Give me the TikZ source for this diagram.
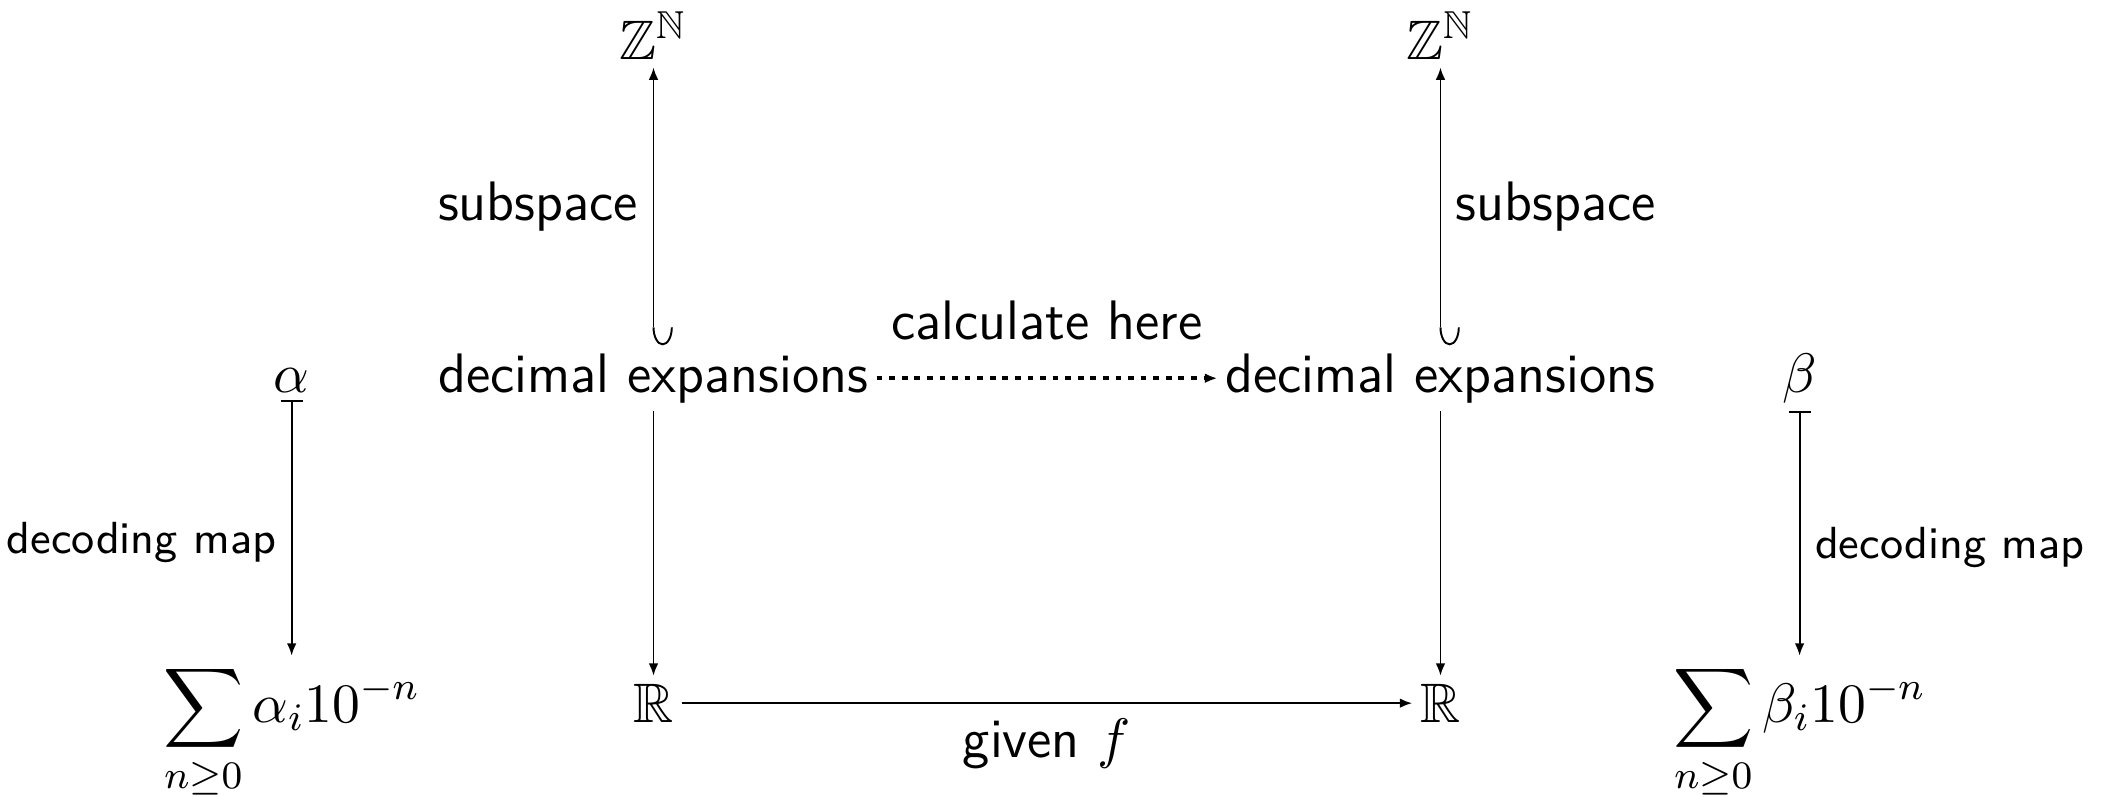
\documentclass[tikz,border=0pt]{standalone}
\usepackage{fix-cm}
\usepackage{amsmath}
\usepackage{amssymb}
\usepackage{tikz}
\usetikzlibrary{arrows.meta}

\begin{document}
\begin{tikzpicture}[>={Latex[length=0.9mm,width=0.7mm]},
  font=\fontsize{11.5}{14}\selectfont\sffamily,
  obj/.style={anchor=base,inner sep=1.5pt},
  lbl/.style={inner sep=3pt},
  small lbl/.style={inner sep=3pt,yshift=-3pt,font=\fontsize{9.3}{11}\selectfont\sffamily},
  hook tail/.style={{Hooks[left,arc=180,length=1.3mm,width=2.8mm]}->}]
  \useasboundingbox (0,0) rectangle (15.3,5.79);
  % objects
  \node[obj] (zl) at (4.75,5.36) {$\mathbb{Z}^{\mathbb{N}}$};
  \node[obj] (zr) at (10.47,5.36) {$\mathbb{Z}^{\mathbb{N}}$};
  \node[obj] (alpha) at (2.12,2.94) {$\alpha$};
  \node[obj] (dl) at (4.75,2.94) {decimal expansions};
  \node[obj] (dr) at (10.47,2.94) {decimal expansions};
  \node[obj] (beta) at (13.08,2.94) {$\beta$};
  \node[obj] (sl) at (2.12,0.54) {$\displaystyle\sum_{n\geq 0}\alpha_i 10^{-n}$};
  \node[obj] (rl) at (4.75,0.54) {$\mathbb{R}$};
  \node[obj] (rr) at (10.47,0.54) {$\mathbb{R}$};
  \node[obj] (sr) at (13.08,0.54) {$\displaystyle\sum_{n\geq 0}\beta_i 10^{-n}$};
  % maps
  \draw[hook tail] (dl) -- node[lbl,left] {subspace} (zl);
  \draw[hook tail] (dr) -- node[lbl,right] {subspace} (zr);
  \draw[->,line width=0.9pt,dash pattern=on 1.2pt off 1.4pt] (dl) -- node[lbl,above=4.4pt] {calculate here} (dr);
  \draw[->] (dl) -- (rl);
  \draw[->] (dr) -- (rr);
  \draw[->] (rl) -- node[lbl,below] {given $f$} (rr);
  \draw[{Bar[width=1.6mm]}->] (alpha) -- node[small lbl,left] {decoding map} (sl);
  \draw[{Bar[width=1.6mm]}->] (beta) -- node[small lbl,right] {decoding map} (sr);
\end{tikzpicture}
\end{document}
